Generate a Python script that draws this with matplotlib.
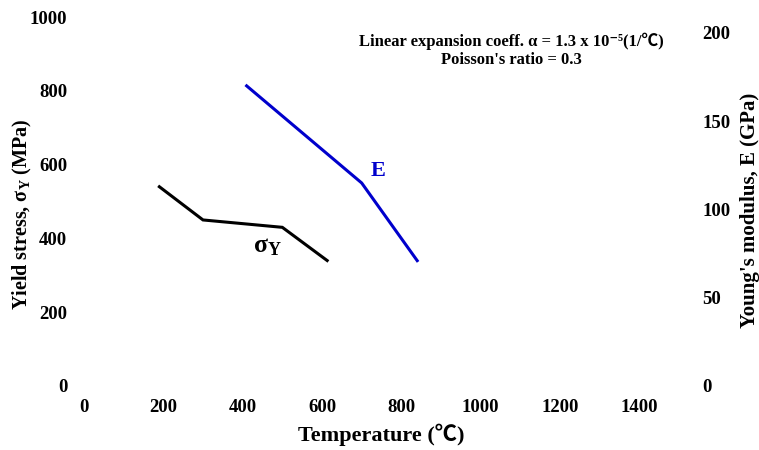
import matplotlib.pyplot as plt

plt.rcParams['font.family'] = ['Liberation Serif', 'DejaVu Sans']
plt.rcParams['font.weight'] = 'bold'
plt.rcParams['mathtext.fontset'] = 'custom'
plt.rcParams['mathtext.rm'] = 'Liberation Serif:bold'
plt.rcParams['mathtext.bf'] = 'Liberation Serif:bold'
plt.rcParams['mathtext.it'] = 'Liberation Serif:bold'

# data
temp_sy = [190, 300, 500, 613]
yield_stress = [540, 450, 430, 340]
temp_e = [410, 700, 840]
young_mod = [170, 115, 71]

x_ticks = [0, 200, 400, 600, 800, 1000, 1200, 1400]
left_ticks = [0, 200, 400, 600, 800, 1000]
right_ticks = [0, 50, 100, 150, 200]

cjk = ['Liberation Serif', 'Noto Sans CJK SC', 'DejaVu Sans']

fig = plt.figure(figsize=(7.59, 4.5), dpi=100)
ax = fig.add_axes([84 / 759, 1 - 386 / 450, (679 - 84) / 759, (386 - 17) / 450])
ax2 = ax.twinx()

ax.plot(temp_sy, yield_stress, color='black', lw=2.2, solid_joinstyle='miter')
ax2.plot(temp_e, young_mod, color='#0000cc', lw=2.2, solid_joinstyle='miter')

ax.set_xlim(0, 1500)
ax.set_ylim(0, 1000)
ax2.set_ylim(0, 209)

ax.set_xticks(x_ticks)
ax.set_yticks(left_ticks)
ax2.set_yticks(right_ticks)

for a in (ax, ax2):
    for s in a.spines.values():
        s.set_visible(False)
ax.tick_params(axis='x', length=0, pad=9, labelsize=13.5)
ax.tick_params(axis='y', length=0, pad=12, labelsize=13.5)
ax2.tick_params(axis='y', length=0, pad=17, labelsize=13.5)

ax.set_xlabel('Temperature (℃)', fontsize=16, fontweight='bold', labelpad=6, family=cjk)
ax.set_ylabel('Yield stress, σ$_\\mathregular{Y}$ (MPa)', fontsize=14.5, fontweight='bold', va='center')
ax.yaxis.set_label_coords(-0.104, 0.465)
ax2.set_ylabel("Young's modulus, E (GPa)", fontsize=15, fontweight='bold', va='center')
ax2.yaxis.set_label_coords(1.119, 0.477)

ax.text(462, 379, 'σ$_\\mathregular{Y}$', fontsize=18.5, fontweight='bold', ha='center', va='center')
ax2.text(741, 122, 'E', fontsize=16, fontweight='bold', color='#0000cc', ha='center', va='center')

ax.text(1078, 910, 'Linear expansion coeff. α = 1.3 x 10⁻⁵(1/℃)\nPoisson\'s ratio = 0.3',
        fontsize=12, fontweight='bold', ha='center', va='center', linespacing=1.2, family=cjk)

fig.savefig('out.png', dpi=100)
